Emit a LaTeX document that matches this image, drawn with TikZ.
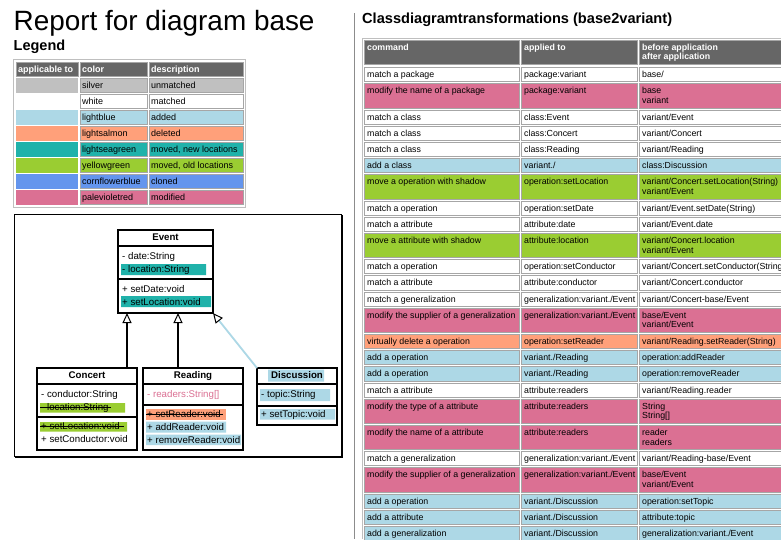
\documentclass[tikz,border=0pt]{standalone}
\usepackage{fontspec}
\setmainfont{Liberation Sans}
\usetikzlibrary{arrows.meta}

\definecolor{silverc}{HTML}{C0C0C0}
\definecolor{lightbluec}{HTML}{ADD8E6}
\definecolor{salmonc}{HTML}{FFA07A}
\definecolor{seagreenc}{HTML}{20B2AA}
\definecolor{ygreenc}{HTML}{9ACD32}
\definecolor{cornflowerc}{HTML}{6495ED}
\definecolor{pvredc}{HTML}{DB7093}
\definecolor{headc}{HTML}{666666}

% one row of the transformation table: name, cell height, fill, command, applied to, before, after
\def\rowy{67.4}
\newcommand\trow[7]{%
  \path[cell,fill=#3] (364,\rowy) rectangle ++(155,#2)
                      (521,\rowy) rectangle ++(116,#2)
                      (639,\rowy) rectangle ++(160,#2);
  \node[txt] (#1c) at (367,\rowy+10.2) {#4};
  \node[txt] (#1a) at (524,\rowy+10.2) {#5};
  \node[txt] (#1b) at (642,\rowy+10.2) {#6};
  \ifx\relax#7\relax\else\node[txt] (#1n) at (642,\rowy+19.8) {#7};\fi
  \pgfmathsetmacro\nexty{\rowy+#2+2}\global\let\rowy\nexty}

% one row of the legend: name, fill, colour name, description
\def\ly{78}
\newcommand\lrow[4]{%
  \path[fill=#2] (16,\ly) rectangle ++(62,14.5);
  \path[cell,fill=#2] (80,\ly) rectangle ++(67,14.5)
                      (149,\ly) rectangle ++(94,14.5);
  \node[ltxt] (#1a) at (82,\ly+10.5) {#3};
  \node[ltxt] (#1b) at (151,\ly+10.5) {#4};
  \pgfmathsetmacro\nextly{\ly+16}\global\let\ly\nextly}

\begin{document}
\begin{tikzpicture}[x=1pt,y=-1pt,
  txt/.style={anchor=base west,inner sep=0pt,font=\fontsize{8.8}{10}\selectfont},
  ltxt/.style={anchor=base west,inner sep=0pt,font=\fontsize{9}{10}\selectfont},
  htxt/.style={anchor=base west,inner sep=0pt,text=white,font=\fontsize{8.8}{10}\selectfont\bfseries},
  ctxt/.style={anchor=base west,inner sep=0pt,font=\fontsize{9.7}{11}\selectfont},
  ctitle/.style={anchor=base,inner sep=0pt,font=\fontsize{9.7}{11}\selectfont\bfseries},
  cell/.style={draw=black!35,line width=0.6pt},
  classbox/.style={draw,line width=1.6pt,anchor=north west,inner sep=0pt,outer sep=0pt},
  sep/.style={line width=1.6pt},
  strike/.style={line width=0.8pt},
  gen/.style={line width=1.8pt,-{Triangle[open,length=10pt,width=9pt,line width=1pt]}},
  genb/.style={gen,draw=lightbluec,-{Triangle[open,length=10pt,width=9pt,line width=1pt,color=black]}}]

\useasboundingbox (0,0) rectangle (781,539);
\clip (0,0) rectangle (781,539);
\fill[white] (0,0) rectangle (781,539);

% ---------- headings ----------
\node[anchor=base west,inner sep=0pt,font=\fontsize{27.9}{30}\selectfont] (title) at (13.5,30) {Report for diagram base};
\node[anchor=base west,inner sep=0pt,font=\fontsize{14.5}{16}\selectfont\bfseries] (legend) at (13.5,50) {Legend};
\node[anchor=base west,inner sep=0pt,font=\fontsize{14.6}{16}\selectfont\bfseries] (rtitle) at (362,23) {Classdiagramtransformations (base2variant)};

% separator between the two halves
\draw[black!45,line width=1.3pt] (354.5,13) -- (354.5,539);

% ---------- legend ----------
\draw[black!25] (13.5,59.5) rectangle (245.5,207.5);
\path[cell,fill=headc] (16,62) rectangle ++(62,14.5)
                       (80,62) rectangle ++(67,14.5)
                       (149,62) rectangle ++(94,14.5);
\node[htxt,font=\fontsize{9}{10}\selectfont\bfseries] (lh1) at (18,72.5) {applicable to};
\node[htxt,font=\fontsize{9}{10}\selectfont\bfseries] (lh2) at (82,72.5) {color};
\node[htxt,font=\fontsize{9}{10}\selectfont\bfseries] (lh3) at (151,72.5) {description};
\lrow{ls}{silverc}{silver}{unmatched}
\lrow{lw}{white}{white}{matched}
\lrow{lb}{lightbluec}{lightblue}{added}
\lrow{lsa}{salmonc}{lightsalmon}{deleted}
\lrow{lsg}{seagreenc}{lightseagreen}{moved, new locations}
\lrow{lyg}{ygreenc}{yellowgreen}{moved, old locations}
\lrow{lcb}{cornflowerc}{cornflowerblue}{cloned}
\lrow{lpv}{pvredc}{palevioletred}{modified}

% ---------- class diagram ----------
\draw[line width=1pt] (14,214) rectangle (341.5,456.5);
\draw[line width=1.4pt] (342.2,215) -- (342.2,457.4) -- (15,457.4);

% Event
\node[classbox,minimum width=95,minimum height=83] (ev) at (118,230) {};
\draw[sep] (118,246) -- (213,246) (118,279) -- (213,279);
\node[ctitle] (evt) at (165.5,240.5) {Event};
\path[fill=seagreenc] (121,264) rectangle (206,275) (121,296) rectangle (211,307);
\node[ctxt] (evdate) at (122,259.5) {- date:String};
\node[ctxt] (evloc) at (122,272.5) {- location:String};
\node[ctxt] (evsd) at (122,292.5) {+ setDate:void};
\node[ctxt] (evsl) at (122,305) {+ setLocation:void};

% Concert
\node[classbox,minimum width=100,minimum height=82] (con) at (37,368) {};
\draw[sep] (37,384) -- (137,384) (37,417) -- (137,417);
\node[ctitle] (cont) at (87,378.5) {Concert};
\path[fill=ygreenc] (40,403) rectangle (125,412.5) (40,422) rectangle (127,431.5);
\node[ctxt] (concd) at (41,397) {- conductor:String};
\node[ctxt] (conloc) at (41,410) {- location:String};
\node[ctxt] (consl) at (41,429.5) {+ setLocation:void};
\node[ctxt] (consc) at (41,442.5) {+ setConductor:void};
\draw[strike] ([xshift=-1pt,yshift=3pt]conloc.base west) -- ([xshift=2pt,yshift=3pt]conloc.base east);
\draw[strike] ([xshift=-1pt,yshift=3pt]consl.base west) -- ([xshift=4pt,yshift=3pt]consl.base east);

% Reading
\node[classbox,minimum width=100,minimum height=82] (red) at (143,368) {};
\draw[sep] (143,384) -- (243,384) (143,405) -- (243,405);
\node[ctitle] (redt) at (193,378.5) {Reading};
\path[fill=salmonc] (146,409) rectangle (226,419.5);
\path[fill=lightbluec] (146,421.5) rectangle (226,432.5) (146,434.5) rectangle (241,445);
\node[ctxt,text=pvredc] (redrs) at (147,397) {- readers:String[]};
\node[ctxt] (redsr) at (147,417.5) {+ setReader:void};
\node[ctxt] (redar) at (147,430.5) {+ addReader:void};
\node[ctxt] (redrr) at (147,443.5) {+ removeReader:void};
\draw[strike] ([xshift=-1pt,yshift=3pt]redsr.base west) -- ([xshift=2pt,yshift=3pt]redsr.base east);

% Discussion
\node[classbox,minimum width=80,minimum height=57] (dis) at (257,368) {};
\draw[sep] (257,384) -- (337,384) (257,406) -- (337,406);
\path[fill=lightbluec] (268,369.5) rectangle (324,381.5) (260,389) rectangle (330,401) (260,409) rectangle (335,419.5);
\node[ctitle] (dist) at (297,378.5) {Discussion};
\node[ctxt] (distp) at (261,397) {- topic:String};
\node[ctxt] (disst) at (261,417.5) {+ setTopic:void};

% generalizations
\draw[gen] ([xshift=40]con.north) -- ([xshift=-38.5]ev.south);
\draw[gen] ([xshift=-15]red.north) -- ([xshift=12.5]ev.south);
\draw[genb] (dis.north west) -- (ev.south east);

% ---------- transformation table ----------
\draw[black!25] (362.5,539) -- (362.5,38.5) -- (781,38.5);
\path[cell,fill=headc] (364,40) rectangle ++(155,24.2)
                       (521,40) rectangle ++(116,24.2)
                       (639,40) rectangle ++(160,24.2);
\node[htxt] (h1) at (367,50.2) {command};
\node[htxt] (h2) at (524,50.2) {applied to};
\node[htxt] (h3) at (642,50.2) {before application};
\node[htxt] (h4) at (642,59.8) {after application};

\trow{r1}{14.2}{white}{match a package}{package:variant}{base/}{}
\trow{r2}{24.2}{pvredc}{modify the name of a package}{package:variant}{base}{variant}
\trow{r3}{14.2}{white}{match a class}{class:Event}{variant/Event}{}
\trow{r4}{14.2}{white}{match a class}{class:Concert}{variant/Concert}{}
\trow{r5}{14.2}{white}{match a class}{class:Reading}{variant/Reading}{}
\trow{r6}{14.2}{lightbluec}{add a class}{variant./}{class:Discussion}{}
\trow{r7}{24.2}{ygreenc}{move a operation with shadow}{operation:setLocation}{variant/Concert.setLocation(String)}{variant/Event}
\trow{r8}{14.2}{white}{match a operation}{operation:setDate}{variant/Event.setDate(String)}{}
\trow{r9}{14.2}{white}{match a attribute}{attribute:date}{variant/Event.date}{}
\trow{r10}{24.2}{ygreenc}{move a attribute with shadow}{attribute:location}{variant/Concert.location}{variant/Event}
\trow{r11}{14.2}{white}{match a operation}{operation:setConductor}{variant/Concert.setConductor(String)}{}
\trow{r12}{14.2}{white}{match a attribute}{attribute:conductor}{variant/Concert.conductor}{}
\trow{r13}{14.2}{white}{match a generalization}{generalization:variant./Event}{variant/Concert-base/Event}{}
\trow{r14}{24.2}{pvredc}{modify the supplier of a generalization}{generalization:variant./Event}{base/Event}{variant/Event}
\trow{r15}{14.2}{salmonc}{virtually delete a operation}{operation:setReader}{variant/Reading.setReader(String)}{}
\trow{r16}{14.2}{lightbluec}{add a operation}{variant./Reading}{operation:addReader}{}
\trow{r17}{14.2}{lightbluec}{add a operation}{variant./Reading}{operation:removeReader}{}
\trow{r18}{14.2}{white}{match a attribute}{attribute:readers}{variant/Reading.reader}{}
\trow{r19}{24.2}{pvredc}{modify the type of a attribute}{attribute:readers}{String}{String[]}
\trow{r20}{24.2}{pvredc}{modify the name of a attribute}{attribute:readers}{reader}{readers}
\trow{r21}{14.2}{white}{match a generalization}{generalization:variant./Event}{variant/Reading-base/Event}{}
\trow{r22}{24.2}{pvredc}{modify the supplier of a generalization}{generalization:variant./Event}{base/Event}{variant/Event}
\trow{r23}{14.2}{lightbluec}{add a operation}{variant./Discussion}{operation:setTopic}{}
\trow{r24}{14.2}{lightbluec}{add a attribute}{variant./Discussion}{attribute:topic}{}
\trow{r25}{14.2}{lightbluec}{add a generalization}{variant./Discussion}{generalization:variant./Event}{}
\end{tikzpicture}
\end{document}
